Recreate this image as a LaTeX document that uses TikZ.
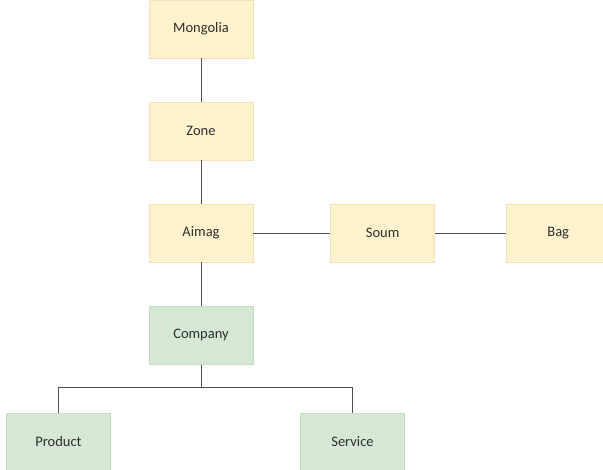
\documentclass[tikz,border=0pt]{standalone}
\usepackage{fontspec}
\setmainfont{Carlito}
\usetikzlibrary{positioning}
\definecolor{Sand}{RGB}{255,242,204}
\definecolor{SandLine}{RGB}{242,226,186}
\definecolor{Sage}{RGB}{213,232,212}
\definecolor{Sage Line}{RGB}{196,220,194}
\definecolor{Wire}{RGB}{80,80,80}
\tikzset{
  rbox/.style={rectangle,draw=SandLine,fill=Sand,line width=0.6pt,
               font=\fontsize{14.5}{16}\selectfont,text=black!82,
               minimum width=104pt,minimum height=58pt,inner sep=2pt},
  cbox/.style={rbox,draw=Sage Line,fill=Sage},
  link/.style={Wire,line width=1pt},
}
\begin{document}
\begin{tikzpicture}[x=1pt,y=1pt,node distance=43.5pt]
    \useasboundingbox (0,0) rectangle (603,-470);
    % region hierarchy
    \node[rbox] (mongolia) at (201,-29) {Mongolia};
    \node[rbox,below=of mongolia] (zone) {Zone};
    \node[rbox,below=of zone] (aimag) {Aimag};
    \node[rbox,right=77pt of aimag] (soum) {Soum};
    \node[rbox,right=71pt of soum] (bag) {Bag};
    % company branch
    \node[cbox,below=of aimag] (company) {Company};
    \node[cbox] (product) at (58.5,-442) {Product};
    \node[cbox] (service) at (352.5,-442) {Service};
    \coordinate (split) at (201,-388);

    \draw[link] (mongolia) -- (zone);
    \draw[link] (zone) -- (aimag);
    \draw[link] (aimag) -- (soum);
    \draw[link] (soum) -- (bag);
    \draw[link] (aimag) -- (company);
    \draw[link] (company) -- (split);
    \draw[link] (split) -| (product);
    \draw[link] (split) -| (service);
\end{tikzpicture}
\end{document}
